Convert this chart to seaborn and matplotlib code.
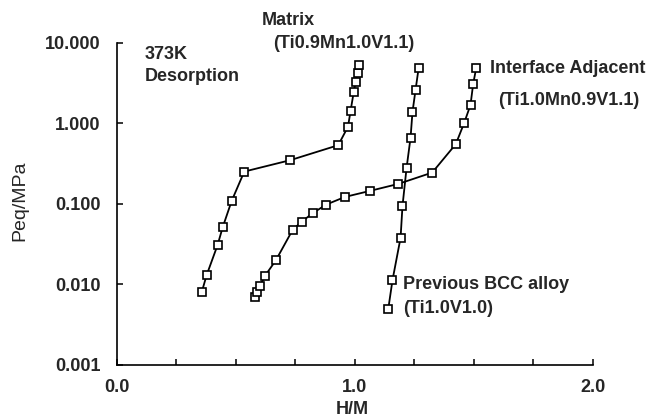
import numpy as np
import pandas as pd
import matplotlib
matplotlib.use("Agg")
import matplotlib.pyplot as plt
from matplotlib.ticker import FixedLocator, MultipleLocator, NullLocator
import seaborn as sns

# --- data (H/M vs Peq in MPa) ---
matrix_hm = [0.356, 0.377, 0.423, 0.444, 0.482, 0.535, 0.728, 0.930,
             0.971, 0.982, 0.995, 1.003, 1.011, 1.018]
matrix_p = [0.0080, 0.0131, 0.031, 0.051, 0.109, 0.252, 0.349, 0.536,
            0.91, 1.44, 2.44, 3.25, 4.24, 5.28]

interface_hm = [0.580, 0.589, 0.601, 0.623, 0.668, 0.739, 0.776, 0.822,
                0.879, 0.958, 1.063, 1.182, 1.325, 1.424, 1.459, 1.486,
                1.497, 1.510]
interface_p = [0.0069, 0.0080, 0.0096, 0.0129, 0.020, 0.048, 0.060, 0.0765,
               0.098, 0.122, 0.145, 0.177, 0.245, 0.552, 1.006, 1.70,
               3.07, 4.89]

bcc_hm = [1.140, 1.158, 1.192, 1.200, 1.217, 1.234, 1.242, 1.255, 1.268]
bcc_p = [0.0049, 0.0113, 0.038, 0.094, 0.277, 0.667, 1.38, 2.61, 4.89]

y_ticks = [0.001, 0.01, 0.1, 1, 10]
y_tick_labels = ["0.001", "0.010", "0.100", "1.000", "10.000"]
x_ticks = [0, 1, 2]
x_tick_labels = ["0.0", "1.0", "2.0"]

series = {
    "Matrix": (matrix_hm, matrix_p),
    "Interface": (interface_hm, interface_p),
    "BCC": (bcc_hm, bcc_p),
}

sns.set_style("ticks")
plt.rcParams["font.family"] = ["Liberation Sans", "DejaVu Sans"]

fig = plt.figure(figsize=(6.5, 4.2), dpi=100)
ax = fig.add_axes([0.18, 0.131, 0.732, 0.767])

for name, (hm, p) in series.items():
    df = pd.DataFrame({"H/M": hm, "Peq": p})
    sns.lineplot(data=df, x="H/M", y="Peq", ax=ax, sort=False, color="black",
                 linewidth=1.3, marker="s", markersize=5.5,
                 markerfacecolor="white", markeredgecolor="black",
                 markeredgewidth=1.2)

ax.set_yscale("log")
ax.set_xlim(0, 2)
ax.set_ylim(0.001, 10)
ax.yaxis.set_major_locator(FixedLocator(y_ticks))
ax.yaxis.set_minor_locator(NullLocator())
ax.set_yticklabels(y_tick_labels)
ax.xaxis.set_major_locator(FixedLocator(x_ticks))
ax.xaxis.set_minor_locator(MultipleLocator(0.25))
ax.set_xticklabels(x_tick_labels)

ax.tick_params(which="both", direction="in", length=4, width=1.1,
               labelsize=13, color="black")
ax.tick_params(axis="x", pad=10)
ax.tick_params(axis="y", pad=12)
for lab in ax.get_xticklabels() + ax.get_yticklabels():
    lab.set_fontweight("bold")

sns.despine(ax=ax)
for side in ["left", "bottom"]:
    ax.spines[side].set_linewidth(1.2)
    ax.spines[side].set_color("black")

ax.set_xlabel("")
ax.set_ylabel("")
fig.text(352 / 650, 1 - 410 / 420, "H/M", ha="center", va="center",
         fontsize=13, fontweight="bold")
fig.text(20 / 650, 1 - 201 / 420, "Peq/MPa", ha="center", va="center",
         rotation=90, fontsize=14)

bold = dict(fontsize=13, fontweight="bold", ha="left", va="center",
            clip_on=False)
ax.text(0.118, 7.1, "373K", **bold)
ax.text(0.118, 3.79, "Desorption", **bold)
ax.text(0.609, 18.8, "Matrix", **bold)
ax.text(0.655, 9.7, "(Ti0.9Mn1.0V1.1)", **bold)
ax.text(1.567, 4.75, "Interface Adjacent", **bold)
ax.text(1.601, 1.905, "(Ti1.0Mn0.9V1.1)", **bold)
ax.text(1.202, 0.00987, "Previous BCC alloy", **bold)
ax.text(1.202, 0.00497, "(Ti1.0V1.0)", **bold)

fig.savefig("out.png", dpi=100)
